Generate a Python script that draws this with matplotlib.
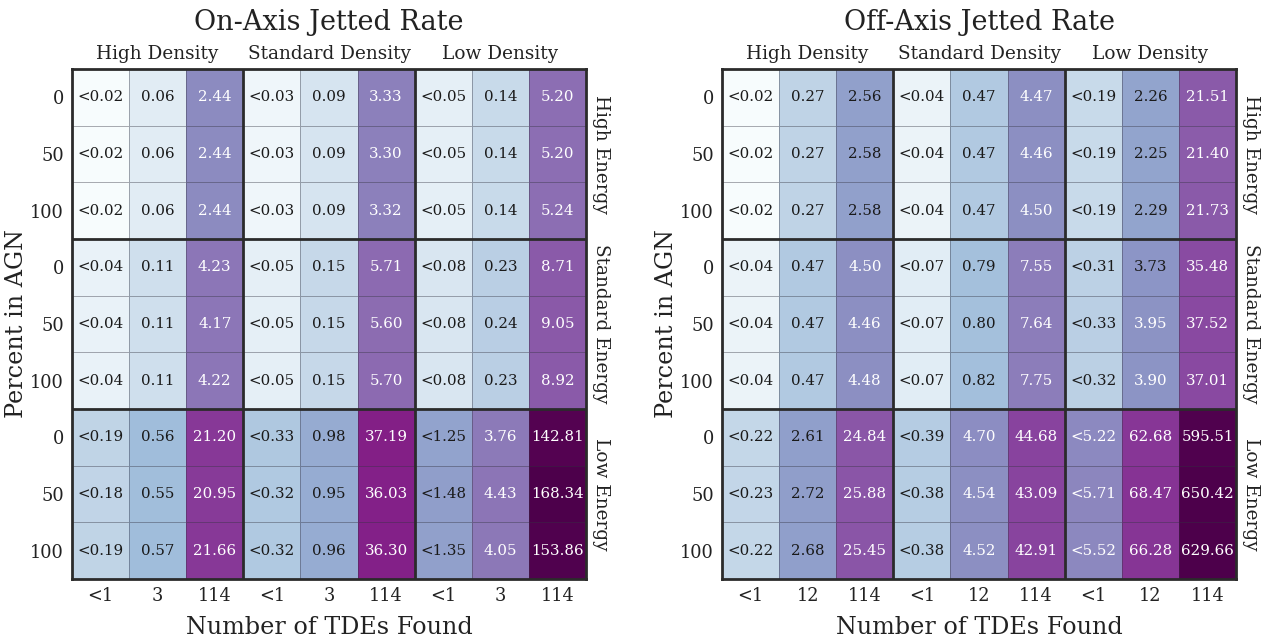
import numpy as np
import matplotlib
matplotlib.use("Agg")
import matplotlib.pyplot as plt
from matplotlib.colors import LogNorm

plt.rcParams['font.family'] = ['DejaVu Serif']

# ---------------- data ----------------
density_labels = ["High Density", "Standard Density", "Low Density"]
energy_labels = ["High Energy", "Standard Energy", "Low Energy"]
agn_ticks = ["0", "50", "100"] * 3
on_axis_xticks = ["<1", "3", "114"] * 3
off_axis_xticks = ["<1", "12", "114"] * 3
upper_limit_cols = [0, 3, 6]

on_axis_rates = [
    [0.02, 0.06, 2.44, 0.03, 0.09, 3.33, 0.05, 0.14, 5.20],
    [0.02, 0.06, 2.44, 0.03, 0.09, 3.30, 0.05, 0.14, 5.20],
    [0.02, 0.06, 2.44, 0.03, 0.09, 3.32, 0.05, 0.14, 5.24],
    [0.04, 0.11, 4.23, 0.05, 0.15, 5.71, 0.08, 0.23, 8.71],
    [0.04, 0.11, 4.17, 0.05, 0.15, 5.60, 0.08, 0.24, 9.05],
    [0.04, 0.11, 4.22, 0.05, 0.15, 5.70, 0.08, 0.23, 8.92],
    [0.19, 0.56, 21.20, 0.33, 0.98, 37.19, 1.25, 3.76, 142.81],
    [0.18, 0.55, 20.95, 0.32, 0.95, 36.03, 1.48, 4.43, 168.34],
    [0.19, 0.57, 21.66, 0.32, 0.96, 36.30, 1.35, 4.05, 153.86],
]

off_axis_rates = [
    [0.02, 0.27, 2.56, 0.04, 0.47, 4.47, 0.19, 2.26, 21.51],
    [0.02, 0.27, 2.58, 0.04, 0.47, 4.46, 0.19, 2.25, 21.40],
    [0.02, 0.27, 2.58, 0.04, 0.47, 4.50, 0.19, 2.29, 21.73],
    [0.04, 0.47, 4.50, 0.07, 0.79, 7.55, 0.31, 3.73, 35.48],
    [0.04, 0.47, 4.46, 0.07, 0.80, 7.64, 0.33, 3.95, 37.52],
    [0.04, 0.47, 4.48, 0.07, 0.82, 7.75, 0.32, 3.90, 37.01],
    [0.22, 2.61, 24.84, 0.39, 4.70, 44.68, 5.22, 62.68, 595.51],
    [0.23, 2.72, 25.88, 0.38, 4.54, 43.09, 5.71, 68.47, 650.42],
    [0.22, 2.68, 25.45, 0.38, 4.52, 42.91, 5.52, 66.28, 629.66],
]

panels = [
    ("On-Axis Jetted Rate", on_axis_rates, on_axis_xticks),
    ("Off-Axis Jetted Rate", off_axis_rates, off_axis_xticks),
]

# ---------------- figure ----------------
W, H = 1274, 643
fig = plt.figure(figsize=(W / 100, H / 100), dpi=100)
cmap = plt.get_cmap("BuPu")
TXT = "#222222"

ax_lefts = [72, 722]
for (title, rates, xticks), left_px in zip(panels, ax_lefts):
    data = np.array(rates, dtype=float)
    ax = fig.add_axes([left_px / W, (H - 579) / H, 514 / W, 510 / H])
    norm = LogNorm(vmin=data.min(), vmax=data.max())
    nrow, ncol = data.shape
    ax.pcolormesh(np.arange(ncol + 1), np.arange(nrow + 1), data, cmap=cmap,
                  norm=norm, edgecolors=(0.2, 0.2, 0.25, 0.4), linewidth=0.55)
    ax.set_xlim(0, ncol)
    ax.set_ylim(nrow, 0)
    for i in range(nrow):
        for j in range(ncol):
            v = data[i, j]
            tc = "white" if norm(v) > 0.506 else "#1a1a1a"
            s = ("<" if j in upper_limit_cols else "") + f"{v:.2f}"
            ax.text(j + 0.5, i + 0.5, s, ha="center", va="center",
                    fontsize=10.8, color=tc)
    for k in (3, 6):
        ax.axvline(k, color="#2b2b2b", lw=2)
        ax.axhline(k, color="#2b2b2b", lw=2)
    for sp in ax.spines.values():
        sp.set_linewidth(2)
        sp.set_color("#2b2b2b")
    ax.set_xticks(np.arange(ncol) + 0.5)
    ax.set_xticklabels(xticks, fontsize=12.8, color=TXT)
    ax.set_yticks(np.arange(nrow) + 0.5)
    ax.set_yticklabels(agn_ticks, fontsize=12.8, color=TXT)
    ax.tick_params(length=0, pad=6)
    ax.set_xlabel("Number of TDEs Found", fontsize=17.2, color=TXT)
    ax.xaxis.set_label_coords(0.5, -0.072)
    ax.set_ylabel("Percent in AGN", fontsize=17.2, color=TXT)
    ax.yaxis.set_label_coords(-0.085, 0.5)
    ax.set_title(title, fontsize=19.5, color=TXT, pad=28)
    for g, lab in enumerate(density_labels):
        ax.text(3 * g + 1.5, -0.1, lab, ha="center", va="bottom",
                fontsize=13.3, color=TXT)
    for g, lab in enumerate(energy_labels):
        ax.text(ncol + 0.1, 3 * g + 1.5, lab, ha="left", va="center",
                rotation=-90, fontsize=13.3, color=TXT)

fig.savefig("out.png", dpi=100)
